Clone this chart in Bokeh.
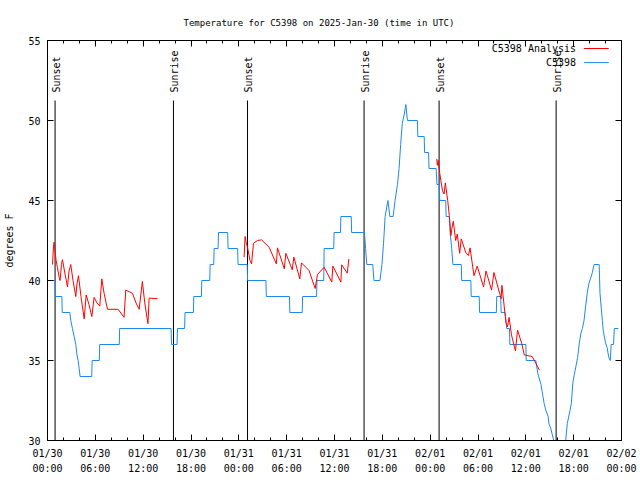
import numpy as np
from bokeh.plotting import figure
from bokeh.models import Range1d, FixedTicker, LinearAxis, CustomJSTickFormatter
from bokeh.core.properties import value
from bokeh.embed import file_html
from bokeh.resources import INLINE

# ---------------- data (hours since 2025-01-30 00:00 UTC, degrees F) ----------------
obs_hours = [0.0, 0.95, 1.0, 1.8, 1.85, 2.8, 2.92, 3.13, 3.34, 3.55, 3.68, 3.84, 3.97,
             4.09, 5.55, 5.6, 6.5, 6.55, 9.0, 9.05, 15.5, 15.55, 16.25, 16.3, 17.2,
             17.25, 18.3, 18.35, 19.3, 19.35, 20.35, 20.4, 20.85, 20.9, 21.4, 21.45,
             22.6, 22.65, 23.85, 23.9, 25.05, 25.1, 27.4, 27.45, 30.35, 30.4, 31.95,
             32.0, 33.75, 33.8, 34.65, 34.7, 35.9, 35.95, 36.75, 36.8, 38.1, 38.15,
             39.75, 39.9, 40.05, 40.8, 40.95, 41.7, 41.95, 42.15, 42.35, 42.7, 42.95,
             43.35, 43.6, 43.9, 44.1, 44.3, 44.5, 44.75, 44.95, 45.15, 46.4, 46.45,
             47.25, 47.3, 47.8, 47.85, 48.75, 48.85, 49.15, 49.2, 49.95, 50.0, 50.4,
             50.5, 50.7, 50.85, 51.9, 51.95, 53.1, 53.15, 54.15, 54.2, 56.3, 56.35,
             56.85, 56.9, 57.4, 57.6, 57.95, 58.0, 60.0, 60.05, 61.25, 61.5, 61.9,
             62.1, 62.3, 62.5, 62.8, 62.9, 63.1, 63.3, 63.5, 64.2, 65.0, 65.2, 65.55,
             65.7, 65.9, 66.05, 66.27, 66.5, 66.7, 66.9, 67.1, 67.3, 67.5, 67.7, 67.9,
             68.1, 68.35, 68.55, 69.2, 69.3, 69.6, 69.7, 70.0, 70.2, 70.4, 70.6, 70.7,
             71.0, 71.1, 71.6]
obs_temps = [40, 40, 39, 39, 38, 38, 37.5, 37, 36.5, 36, 35.4, 35, 34.5,
             34, 34, 35, 35, 36, 36, 37, 37, 36, 36, 37, 37,
             38, 38, 39, 39, 40, 40, 41, 41, 42, 42, 43,
             43, 42, 42, 41, 41, 40, 40, 39, 39, 38, 38,
             39, 39, 40, 40, 42, 42, 43, 43, 44, 44, 43,
             43, 42, 41, 41, 40, 40, 41, 42.3, 44, 45, 44,
             44, 45, 46, 47, 48.5, 49.8, 50.4, 51, 50, 50, 49,
             49, 48, 48, 47, 47, 46, 46, 45, 45, 44, 44,
             43, 42, 41, 41, 40, 40, 39, 39, 38, 38, 39,
             39, 38, 38, 37, 37, 36, 36, 35, 35, 34.2, 33.5,
             32.9, 32.3, 31.9, 31.5, 31.04, 30.8, 30.4, 30, 29.3, 30, 31.06, 31.9,
             32.3, 33.6, 34.06, 34.6, 35.2, 36.04, 36.7, 37, 37.5, 38.4, 39.2, 39.8,
             40.1, 40.5, 41, 41, 39.2, 37.5, 36.9, 36.1, 35.8, 35.2, 35, 36,
             36, 37, 37]

ana1_hours = [0.63, 0.75, 0.83, 0.95, 1.08, 1.25, 1.46, 1.58, 1.75, 1.88, 2.2, 2.51,
              2.7, 2.92, 3.2, 3.55, 3.7, 3.89, 4.2, 4.6, 4.85, 5.2, 5.56, 5.85, 6.2,
              6.56, 6.81, 7.1, 7.53, 8.86, 9.3, 9.6, 9.82, 10.66, 11.1, 11.5, 11.9,
              12.2, 12.6, 12.75, 13.8]
ana1_temps = [41.0, 42.1, 42.4, 41.8, 41.25, 40.8, 40.2, 40.0, 41.0, 41.3, 40.4, 39.6,
              40.6, 41.0, 40.0, 39.0, 39.8, 40.3, 39.0, 37.6, 39.1, 38.5, 37.75, 38.95,
              38.6, 38.4, 40.1, 39.2, 38.2, 38.2, 37.9, 37.7, 39.4, 39.2, 38.6, 38.2,
              39.94, 38.6, 37.3, 38.9, 38.86]

ana2_hours = [24.66, 24.79, 24.9, 25.09, 25.4, 25.6, 25.84, 26.34, 26.84, 27.8, 28.7,
              28.85, 29.7, 29.9, 30.7, 30.9, 31.65, 31.86, 32.8, 33.57, 33.87, 34.7,
              35.66, 35.8, 36.8, 36.9, 37.6, 37.8]
ana2_temps = [41.46, 42.75, 42.4, 42.08, 41.25, 41.04, 42.33, 42.5, 42.54, 42.08, 41.04,
              42.04, 40.73, 41.7, 40.67, 41.46, 40.1, 41.1, 40.63, 39.5, 40.38, 40.83,
              39.9, 40.9, 39.9, 40.98, 40.46, 41.35]

ana3_hours = [48.83, 48.9, 49.0, 49.2, 49.55, 49.75, 49.9, 50.2, 50.4, 50.6, 50.7, 50.9,
              51.2, 51.4, 51.7, 51.9, 52.5, 52.8, 53.0, 53.5, 53.9, 54.7, 55.0, 55.7,
              56.0, 56.9, 57.0, 57.5, 57.7, 57.9, 58.2, 58.7, 58.96, 59.5, 59.8, 60.8,
              61.5, 61.7]
ana3_temps = [47.6, 47.2, 47.5, 46.7, 45.6, 45.4, 46.1, 45.0, 44.06, 42.8, 43.2, 43.7,
              42.5, 42.9, 41.7, 42.6, 41.7, 41.56, 42.04, 40.3, 40.9, 39.6, 40.6, 39.4,
              40.5, 38.86, 39.7, 37.4, 37.1, 37.7, 36.6, 35.6, 36.9, 36.04, 35.35, 35.25,
              34.6, 34.4]

event_hours = [0.95, 15.8, 25.09, 39.71, 49.12, 63.8]
event_names = ["Sunset", "Sunrise", "Sunset", "Sunrise", "Sunset", "Sunrise"]

x_tick_hours = [0, 6, 12, 18, 24, 30, 36, 42, 48, 54, 60, 66, 72]
x_tick_labels = ["01/30\n00:00", "01/30\n06:00", "01/30\n12:00", "01/30\n18:00",
                 "01/31\n00:00", "01/31\n06:00", "01/31\n12:00", "01/31\n18:00",
                 "02/01\n00:00", "02/01\n06:00", "02/01\n12:00", "02/01\n18:00",
                 "02/02\n00:00"]
x_minor_hours = [0, 2, 4, 6, 8, 10, 12, 14, 16, 18, 20, 22, 24, 26, 28, 30, 32, 34,
                 36, 38, 40, 42, 44, 46, 48, 50, 52, 54, 56, 58, 60, 62, 64, 66, 68,
                 70, 72]
y_ticks = [30, 35, 40, 45, 50, 55]

series_names = ["C5398 Analysis", "C5398"]

# ---------------- styling ----------------
FONT = "DejaVu Sans Mono"
FS = "10px"
TITLE_FS = "9px"
RED = "#ff0000"
BLUE = "#1e88f0"

p = figure(width=640, height=480, output_backend="svg", toolbar_location=None,
           x_range=Range1d(0, 72), y_range=Range1d(30, 55),
           min_border_left=47, min_border_right=19, min_border_top=40,
           min_border_bottom=40)
p.background_fill_color = "white"
p.border_fill_color = "white"
p.outline_line_color = "black"
p.outline_line_width = 1
p.xgrid.visible = False
p.ygrid.visible = False

p.title.text = "Temperature for C5398 on 2025-Jan-30 (time in UTC)"
p.title.align = "left"
p.title.offset = 136
p.title.text_font = FONT
p.title.text_font_size = TITLE_FS
p.title.text_font_style = "normal"
p.title.text_color = "black"
p.title.standoff = 26

xt = FixedTicker(ticks=x_tick_hours, minor_ticks=x_minor_hours)
yt = FixedTicker(ticks=y_ticks, minor_ticks=[])
blank = CustomJSTickFormatter(code="return ''")


def style_axis(ax):
    ax.axis_line_color = "black"
    ax.major_tick_line_color = "black"
    ax.minor_tick_line_color = "black"
    ax.major_tick_in = 6
    ax.major_tick_out = 0
    ax.minor_tick_in = 3
    ax.minor_tick_out = 0
    ax.major_label_text_font = FONT
    ax.major_label_text_font_size = FS
    ax.major_label_text_color = "black"


xa = p.xaxis[0]
xa.ticker = xt
xa.major_label_overrides = {h: lab for h, lab in zip(x_tick_hours, x_tick_labels)}
style_axis(xa)
xa.major_label_standoff = 7
xa.major_label_text_line_height = 1.4

ya = p.yaxis[0]
ya.ticker = yt
style_axis(ya)
ya.major_label_standoff = 7
ya.axis_label = "degrees F"
ya.axis_label_text_font = FONT
ya.axis_label_text_font_size = FS
ya.axis_label_text_font_style = "normal"
ya.axis_label_text_color = "black"
ya.axis_label_standoff = 10

top = LinearAxis(ticker=xt, formatter=blank)
style_axis(top)
top.major_label_standoff = 0
p.add_layout(top, "above")
right = LinearAxis(ticker=yt, formatter=blank)
style_axis(right)
right.major_label_standoff = 0
p.add_layout(right, "right")

# sunrise / sunset markers
p.segment(x0=event_hours, y0=[30] * len(event_hours), x1=event_hours,
          y1=[51.25] * len(event_hours), line_color="black", line_width=1)
p.text(x=event_hours, y=[51.75] * len(event_hours), text=event_names,
       angle=np.pi / 2, text_align="left", text_baseline="middle",
       text_font=value(FONT), text_font_size=FS, text_color="black", x_offset=1)

# series
p.line(obs_hours, obs_temps, line_color=BLUE, line_width=1)
p.line(ana1_hours, ana1_temps, line_color=RED, line_width=1)
p.line(ana2_hours, ana2_temps, line_color=RED, line_width=1)
p.line(ana3_hours, ana3_temps, line_color=RED, line_width=1)

# gnuplot-style key (text then sample line), top right
key_text_x = 66.3
key_line_x0, key_line_x1 = 67.3, 70.4
key_y = [54.5, 53.62]
p.text(x=[key_text_x] * 2, y=key_y, text=series_names, text_align="right",
       text_baseline="middle", text_font=value(FONT), text_font_size=FS,
       text_color="black")
p.segment(x0=[key_line_x0] * 2, y0=key_y, x1=[key_line_x1] * 2, y1=key_y,
          line_color=[RED, BLUE], line_width=1)

open("out.html", "w").write(file_html(p, INLINE))
